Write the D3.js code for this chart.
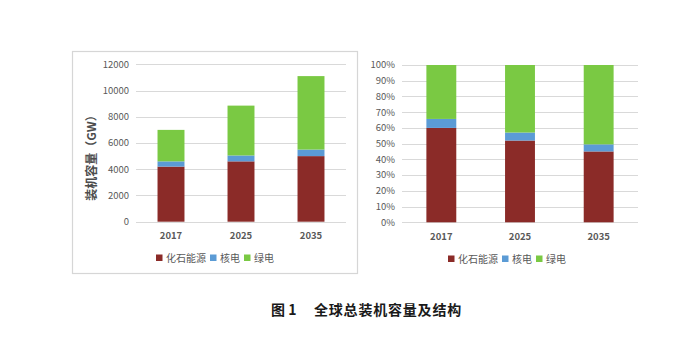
<!DOCTYPE html>
<html>
<head>
<meta charset="utf-8">
<script src="https://cdn.jsdelivr.net/npm/d3@7/dist/d3.min.js"></script>
<style>
  html, body { margin: 0; padding: 0; background: #fff; }
  svg { display: block; }
  text { font-family: "Noto Sans CJK SC", "Noto Sans", sans-serif; }
</style>
</head>
<body>
<svg id="chart" width="676" height="348"></svg>
<script>
// Installed capacity by source (GW)
const years = ["2017", "2025", "2035"];
const seriesNames = ["化石能源", "核电", "绿电"];
const fossil = [4200, 4600, 5000];
const nuclear = [400, 450, 500];
const green = [2400, 3800, 5600];
const colors = ["#8b2b28", "#5b9bd5", "#7ac943"];
const absTicks = [0, 2000, 4000, 6000, 8000, 10000, 12000];
const pctTicks = [0, 0.1, 0.2, 0.3, 0.4, 0.5, 0.6, 0.7, 0.8, 0.9, 1.0];
const yTitle = "装机容量（GW）";
const captionNum = "图 1";
const captionTitle = "全球总装机容量及结构";

const rows = years.map((y, i) => ({ year: y, "化石能源": fossil[i], "核电": nuclear[i], "绿电": green[i] }));

const svg = d3.select("#chart");
const tickColor = "#595959";
const gridColor = "#d9d9d9";

// left panel frame
svg.append("rect")
  .attr("x", 72.5).attr("y", 51.5).attr("width", 285).attr("height", 222)
  .attr("fill", "none").attr("stroke", "#d6d6d6").attr("stroke-width", 1.2);

function panel(opts) {
  const g = svg.append("g");
  const x = d3.scaleBand().domain(years).range([opts.x0, opts.x1]).paddingInner(opts.pad).paddingOuter(opts.pad / 2);
  const y = d3.scaleLinear().domain(opts.domain).range([opts.y0, opts.y1]);
  const stack = d3.stack().keys(seriesNames);
  if (opts.expand) stack.offset(d3.stackOffsetExpand);
  const layers = stack(rows);

  // gridlines
  g.append("g").selectAll("line").data(opts.ticks).join("line")
    .attr("x1", opts.x0).attr("x2", opts.x1)
    .attr("y1", d => Math.round(y(d)) + 0.5).attr("y2", d => Math.round(y(d)) + 0.5)
    .attr("stroke", gridColor).attr("stroke-width", 1);

  // y tick labels
  g.append("g").selectAll("text").data(opts.ticks).join("text")
    .attr("x", opts.x0 - 7).attr("y", d => y(d)).attr("dy", "0.35em")
    .attr("text-anchor", "end").attr("font-size", 9.5).attr("fill", tickColor)
    .text(opts.fmt);

  // bars
  g.append("g").selectAll("g").data(layers).join("g")
    .attr("fill", (d, i) => colors[i])
    .selectAll("rect").data(d => d).join("rect")
    .attr("x", d => x(d.data.year))
    .attr("width", x.bandwidth())
    .attr("y", d => y(d[1]))
    .attr("height", d => y(d[0]) - y(d[1]));

  // category labels
  g.append("g").selectAll("text").data(years).join("text")
    .attr("x", d => x(d) + x.bandwidth() / 2).attr("y", opts.y0 + 14)
    .attr("dy", "0.35em").attr("text-anchor", "middle")
    .attr("font-size", 9.5).attr("font-weight", "bold").attr("fill", tickColor)
    .text(d => d);

  // legend
  const leg = g.append("g");
  let cx = 0;
  seriesNames.forEach((name, i) => {
    leg.append("rect").attr("x", cx).attr("y", -3.5).attr("width", 6.5).attr("height", 6.5).attr("fill", colors[i]);
    const t = leg.append("text").attr("x", cx + 10).attr("y", 0).attr("dy", "0.35em")
      .attr("font-size", 10).attr("fill", tickColor).text(name);
    cx += 10 + t.node().getComputedTextLength() + 4;
  });
  const w = cx - 4;
  leg.attr("transform", `translate(${opts.legendCx - w / 2},${opts.legendY})`);
  return { x, y };
}

panel({
  x0: 136, x1: 346, y0: 221.7, y1: 64.3, domain: [0, 12000], pad: 0.615,
  ticks: absTicks, fmt: d => String(d), legendCx: 215, legendY: 258
});

panel({
  x0: 402, x1: 638, y0: 222.3, y1: 65, domain: [0, 1], pad: 0.62, expand: true,
  ticks: pctTicks, fmt: d => Math.round(d * 100) + "%", legendCx: 507, legendY: 259
});

// y-axis title for the absolute panel
svg.append("text")
  .attr("transform", "translate(92,155) rotate(-90)")
  .attr("text-anchor", "middle").attr("dy", "0.35em")
  .attr("font-size", 12).attr("font-weight", "bold").attr("fill", "#4d4d4d")
  .text(yTitle);

// figure caption
const cap = svg.append("text")
  .attr("y", 310).attr("dy", "0.35em")
  .attr("font-size", 14).attr("font-weight", "bold").attr("fill", "#1a1a1a")
  .attr("xml:space", "preserve");
cap.append("tspan").attr("x", 271).text(captionNum);
cap.append("tspan").attr("x", 314).attr("letter-spacing", 0.8).text(captionTitle);
</script>
</body>
</html>
